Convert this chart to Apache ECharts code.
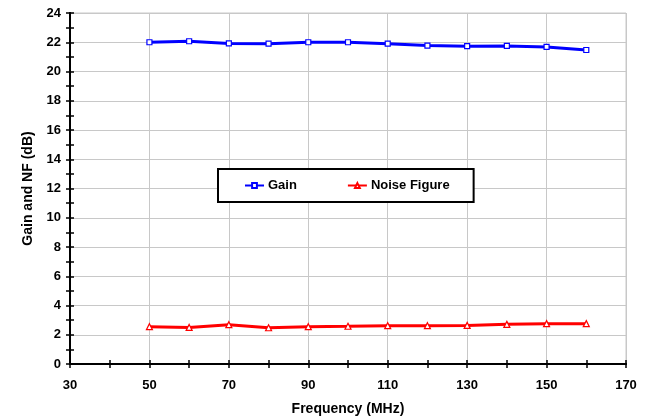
<!DOCTYPE html>
<html><head><meta charset="utf-8">
<script src="https://cdn.jsdelivr.net/npm/echarts@6/dist/echarts.min.js"></script>
<style>html,body{margin:0;padding:0;background:#fff}#c{width:652px;height:419px}</style>
</head><body><div id="c"></div>
<script>
const freq = [50, 60, 70, 80, 90, 100, 110, 120, 130, 140, 150, 160];
const gain = [22.0, 22.07, 21.92, 21.9, 22.0, 22.0, 21.9, 21.77, 21.73, 21.75, 21.68, 21.47];
const noiseFigure = [2.55, 2.5, 2.69, 2.48, 2.55, 2.58, 2.62, 2.62, 2.64, 2.71, 2.76, 2.76];
const seriesNames = ['Gain', 'Noise Figure'];
const xTitle = 'Frequency (MHz)';
const yTitle = 'Gain and NF (dB)';

const font = 'Arial, "Liberation Sans", sans-serif';
const pair = (xs, ys) => xs.map((x, i) => [x, ys[i]]);

const chart = echarts.init(document.getElementById('c'), null, {renderer: 'canvas'});
const tickStyle = {color: '#000', width: 1.5};
const baseX = {
  type: 'value', min: 30, max: 170, interval: 20,
  axisLine: {show: true, onZero: false, lineStyle: {color: '#000', width: 2}},
  minorTick: {show: true, splitNumber: 2, length: 4, lineStyle: tickStyle},
  axisTick: {show: true, length: 4, lineStyle: tickStyle}
};
const baseY = {
  type: 'value', min: 0, max: 24, interval: 2,
  axisLine: {show: true, onZero: false, lineStyle: {color: '#000', width: 2}},
  minorTick: {show: true, splitNumber: 2, length: 4, lineStyle: tickStyle},
  axisTick: {show: true, length: 4, lineStyle: tickStyle}
};
chart.setOption({
  animation: false,
  backgroundColor: '#fff',
  grid: {left: 70, right: 26, top: 13, bottom: 55, show: true, borderColor: '#c8c8c8', borderWidth: 1,
         containLabel: false, outerBoundsMode: 'none'},
  legend: {
    data: seriesNames, left: 218, top: 169, orient: 'horizontal',
    padding: [10, 24, 10, 26], itemGap: 50, itemWidth: 19, itemHeight: 6,
    borderColor: '#000', borderWidth: 2, backgroundColor: '#fff',
    textStyle: {fontFamily: font, fontWeight: 'bold', fontSize: 13, color: '#000', padding: [0, 0, 0, -1]}
  },
  xAxis: [
    Object.assign({}, baseX, {
      position: 'bottom',
      name: xTitle, nameLocation: 'middle', nameGap: 38,
      nameTextStyle: {fontFamily: font, fontWeight: 'bold', fontSize: 14, color: '#000'},
      axisLabel: {fontFamily: font, fontWeight: 'bold', fontSize: 13, color: '#000', margin: 15},
      splitLine: {show: true, lineStyle: {color: '#c8c8c8', width: 1}}
    }),
    Object.assign({}, baseX, {
      position: 'bottom', offset: 0, axisLabel: {show: false}, splitLine: {show: false},
      axisTick: {show: true, inside: true, length: 4, lineStyle: tickStyle},
      minorTick: {show: true, splitNumber: 2, length: 4, lineStyle: tickStyle}
    })
  ],
  yAxis: [
    Object.assign({}, baseY, {
      position: 'left',
      name: yTitle, nameLocation: 'middle', nameGap: 29, nameRotate: 90,
      nameTextStyle: {fontFamily: font, fontWeight: 'bold', fontSize: 14, color: '#000'},
      axisLabel: {fontFamily: font, fontWeight: 'bold', fontSize: 13, color: '#000', margin: 9},
      splitLine: {show: true, lineStyle: {color: '#c8c8c8', width: 1}}
    }),
    Object.assign({}, baseY, {
      position: 'left', offset: 0, axisLabel: {show: false}, splitLine: {show: false},
      axisTick: {show: true, inside: true, length: 4, lineStyle: tickStyle},
      minorTick: {show: true, splitNumber: 2, length: 4, lineStyle: tickStyle}
    })
  ],
  series: [
    {
      name: seriesNames[0], type: 'line', data: pair(freq, gain),
      symbol: 'rect', symbolSize: 5,
      lineStyle: {color: '#0000ff', width: 3},
      itemStyle: {color: '#fff', borderColor: '#0000ff', borderWidth: 1.2}
    },
    {
      name: seriesNames[1], type: 'line', data: pair(freq, noiseFigure),
      symbol: 'triangle', symbolSize: 6,
      lineStyle: {color: '#ff0000', width: 3},
      itemStyle: {color: '#fff', borderColor: '#ff0000', borderWidth: 1.2}
    }
  ]
});
</script></body></html>
